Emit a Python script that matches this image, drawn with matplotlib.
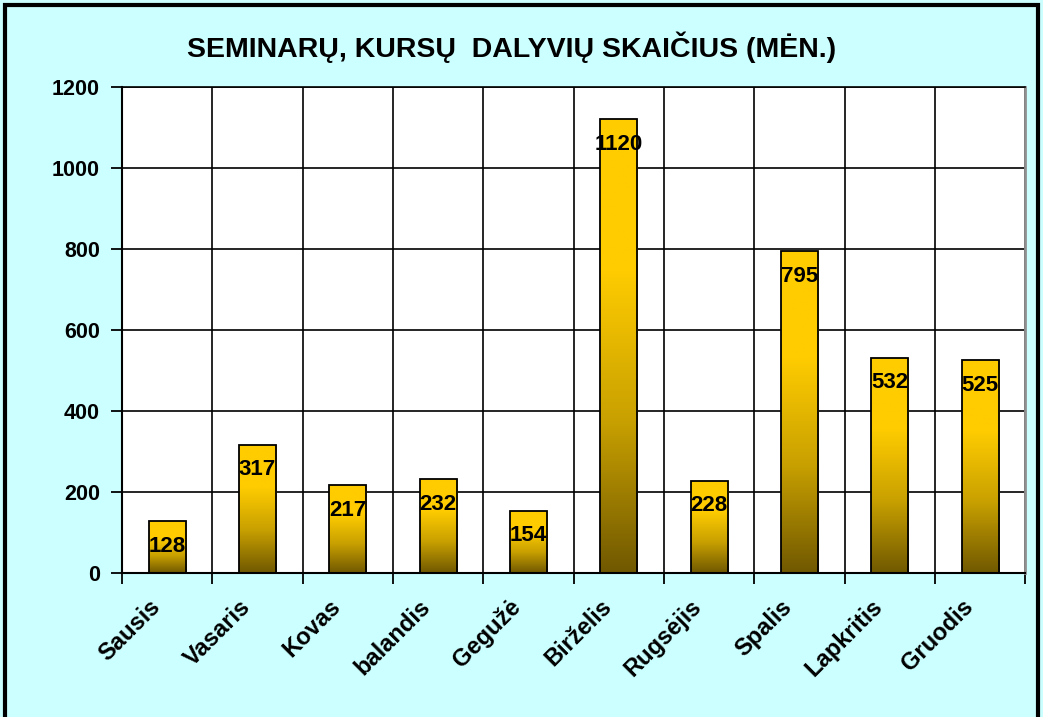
import numpy as np
import matplotlib
matplotlib.use("Agg")
import matplotlib.pyplot as plt
from matplotlib.colors import LinearSegmentedColormap
from matplotlib.patches import Rectangle

# Duomenys
menesiai = ['Sausis', 'Vasaris', 'Kovas', 'balandis', 'Gegužė', 'Birželis',
            'Rugsėjis', 'Spalis', 'Lapkritis', 'Gruodis']
dalyviai = [128, 317, 217, 232, 154, 1120, 228, 795, 532, 525]
y_ticks = [0, 200, 400, 600, 800, 1000, 1200]

TITLE = 'SEMINARŲ, KURSŲ  DALYVIŲ SKAIČIUS (MĖN.)'
BOLD = ['Liberation Sans', 'DejaVu Sans']
BG = '#CCFFFF'

fig = plt.figure(figsize=(10.43, 7.17), dpi=100, facecolor=BG)
ax = fig.add_axes([0.117, 0.2008, 0.866, 0.6779])
ax.set_facecolor('white')

# gradientas stulpeliams: viršuje auksinė, apačioje tamsi alyvuogių
cmap = LinearSegmentedColormap.from_list('auksas', ['#705800', '#C8A000', '#FFCC00', '#FFCC00'])
grad = np.linspace(0, 1, 256).reshape(-1, 1)

x = np.arange(len(menesiai))
w = 0.41
bars = ax.bar(x, dalyviai, width=w, facecolor='none', edgecolor='black',
              linewidth=1.3, zorder=3)
for b, v in zip(bars, dalyviai):
    x0 = b.get_x()
    im = ax.imshow(grad, cmap=cmap, origin='lower', aspect='auto',
                   extent=[x0, x0 + b.get_width(), 0, v], zorder=2)
    im.set_clip_path(b)
    ax.annotate(str(v), (b.get_x() + b.get_width() / 2, v), xytext=(0, -25),
                textcoords='offset pixels', ha='center', va='center',
                fontsize=16, fontweight='bold', family=BOLD, zorder=4)

ax.set_xlim(-0.5, len(menesiai) - 0.5)
ax.set_ylim(0, 1200)
ax.set_yticks(y_ticks)
ax.set_yticklabels([str(t) for t in y_ticks], fontsize=15.5, fontweight='bold', family=BOLD)

# mėnesių pavadinimai pasukti 45°, šiek tiek kairiau nuo stulpelio centro
ax.set_xticks(x)
ax.set_xticklabels([])
ax.tick_params(axis='x', which='major', length=0)
for i, m in enumerate(menesiai):
    ax.annotate(m, (i, 0), xytext=(-19, -22), textcoords='offset pixels',
                rotation=45, ha='right', va='top', rotation_mode='anchor',
                fontsize=17, fontweight='bold', family=BOLD, annotation_clip=False)

ax.set_xticks(np.arange(-0.5, len(menesiai), 1), minor=True)
ax.tick_params(axis='x', which='minor', length=8, width=1.3, direction='out')
ax.tick_params(axis='y', length=8, width=1.3, direction='out', pad=8)

ax.grid(True, axis='y', color='black', linewidth=1.2, zorder=0)
ax.grid(True, axis='x', which='minor', color='black', linewidth=1.2, zorder=0)
ax.set_axisbelow(True)
for side in ['left', 'bottom']:
    ax.spines[side].set_linewidth(1.5)
ax.spines['top'].set_linewidth(1.2)
ax.spines['right'].set_color('#909090')
ax.spines['right'].set_linewidth(2)

fig.text(0.49, 0.934, TITLE, ha='center', va='center', fontsize=20.5,
         fontweight='bold', family=BOLD)

# rėmelis aplink visą diagramą
fig.patches.append(Rectangle((0.005, -0.01), 0.99, 1.003, transform=fig.transFigure,
                             fill=False, edgecolor='black', linewidth=3))

fig.savefig('out.png', dpi=100, facecolor=BG)
